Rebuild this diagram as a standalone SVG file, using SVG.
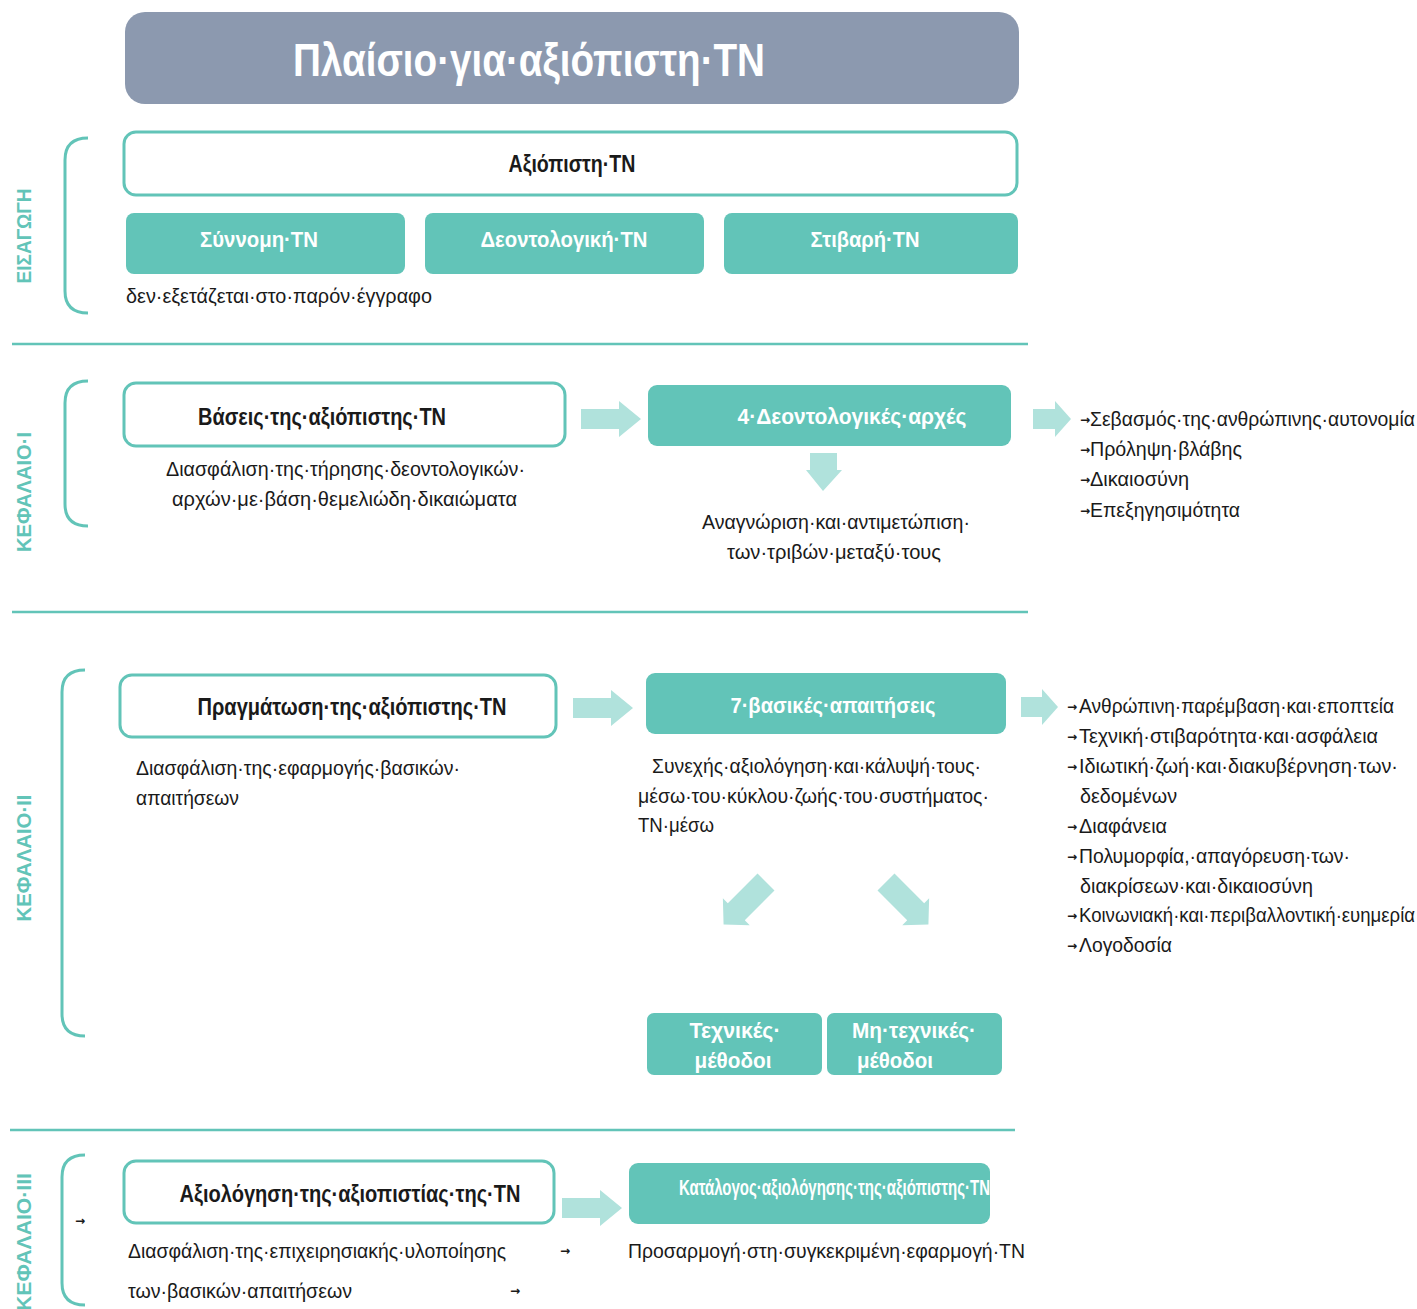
<svg xmlns="http://www.w3.org/2000/svg" width="1417" height="1309" viewBox="0 0 1417 1309">
<style>
.bg{fill:#ffffff}
.title{fill:#8c99af}
.wbox{fill:#ffffff;stroke:#62c4b8;stroke-width:3}
.tbox{fill:#62c4b8}
.brace{fill:none;stroke:#62c4b8;stroke-width:3}
.div{stroke:#62c4b8;stroke-width:2.5}
.arr{fill:#b0e2dc}
.h{font-family:"Liberation Sans Narrow","Liberation Sans",Arial,sans-serif;font-weight:bold;font-size:23px;fill:#1a1a1a}
.hw{font-family:"Liberation Sans Narrow","Liberation Sans",Arial,sans-serif;font-weight:bold;font-size:22px;fill:#ffffff}
.t{font-family:"Liberation Sans Narrow","Liberation Sans",Arial,sans-serif;font-size:21px;fill:#1a1a1a}
.l{font-family:"Liberation Sans Narrow","Liberation Sans",Arial,sans-serif;font-size:21px;fill:#1a1a1a}
.b{font-family:"DejaVu Sans",sans-serif;font-size:12px;font-weight:bold;fill:#1a1a1a}
.sec{font-family:"Liberation Sans",Arial,sans-serif;font-weight:bold;font-size:21px;fill:#62c4b8}
</style>
<rect class="bg" x="0" y="0" width="1417" height="1309"/>

<g id="title">
<rect class="title" x="125" y="12" width="894" height="92" rx="20"/>
<text x="529" y="76" text-anchor="middle" font-family="'Liberation Sans Narrow','Liberation Sans',Arial,sans-serif" font-weight="bold" font-size="47" fill="#ffffff" textLength="472" lengthAdjust="spacingAndGlyphs">Πλαίσιο·για·αξιόπιστη·ΤΝ</text>
</g>

<g id="dividers">
<line class="div" x1="12" y1="344" x2="1028" y2="344"/>
<line class="div" x1="12" y1="612" x2="1028" y2="612"/>
<line class="div" x1="10" y1="1130" x2="1015" y2="1130"/>
</g>

<g id="section-labels">
<path class="brace" d="M88,138 Q65,138 65,160 L65,291 Q65,313 88,313"/>
<text class="sec" transform="translate(31,236) rotate(-90)" text-anchor="middle" textLength="95" lengthAdjust="spacingAndGlyphs">ΕΙΣΑΓΩΓΗ</text>
<path class="brace" d="M88,381 Q65,381 65,403 L65,504 Q65,526 88,526"/>
<text class="sec" transform="translate(31,492) rotate(-90)" text-anchor="middle" textLength="120" lengthAdjust="spacingAndGlyphs">ΚΕΦΑΛΑΙΟ·Ι</text>
<path class="brace" d="M85,670 Q62,670 62,692 L62,1014 Q62,1036 85,1036"/>
<text class="sec" transform="translate(31,858) rotate(-90)" text-anchor="middle" textLength="127" lengthAdjust="spacingAndGlyphs">ΚΕΦΑΛΑΙΟ·ΙΙ</text>
<path class="brace" d="M85,1155 Q62,1155 62,1177 L62,1283 Q62,1305 85,1305"/>
<text class="sec" transform="translate(31,1242) rotate(-90)" text-anchor="middle" textLength="138" lengthAdjust="spacingAndGlyphs">ΚΕΦΑΛΑΙΟ·ΙΙΙ</text>
</g>

<g id="connectors">
<polygon class="arr" points="581,409 619,409 619,401 641,419 619,437 619,429 581,429"/>
<polygon class="arr" points="1033,409 1055,409 1055,401 1071,419 1055,437 1055,429 1033,429"/>
<polygon class="arr" points="810,453 837,453 837,470 842,470 823,491 806,470 810,470"/>
<polygon class="arr" points="573,698 611,698 611,690 633,708 611,726 611,718 573,718"/>
<polygon class="arr" points="1021,697 1042,697 1042,689 1058,707 1042,725 1042,717 1021,717"/>
<polygon class="arr" transform="translate(766,882) rotate(135)" points="0,-12 42,-12 42,-19 60,0 42,19 42,12 0,12"/>
<polygon class="arr" transform="translate(886,882) rotate(45)" points="0,-12 42,-12 42,-19 60,0 42,19 42,12 0,12"/>
<polygon class="arr" points="562,1198 600,1198 600,1190 622,1208 600,1226 600,1218 562,1218"/>
</g>

<g id="node-axiopisti">
<rect class="wbox" x="124" y="132" width="893" height="63" rx="12"/>
<text class="h" x="572" y="172" text-anchor="middle" textLength="127" lengthAdjust="spacingAndGlyphs">Αξιόπιστη·ΤΝ</text>
</g>
<g id="node-synnomi">
<rect class="tbox" x="126" y="213" width="279" height="61" rx="8"/>
<text class="hw" x="259" y="247" text-anchor="middle" textLength="118" lengthAdjust="spacingAndGlyphs">Σύννομη·ΤΝ</text>
</g>
<g id="node-deontologiki">
<rect class="tbox" x="425" y="213" width="279" height="61" rx="8"/>
<text class="hw" x="564" y="247" text-anchor="middle" textLength="167" lengthAdjust="spacingAndGlyphs">Δεοντολογική·ΤΝ</text>
</g>
<g id="node-stivari">
<rect class="tbox" x="724" y="213" width="294" height="61" rx="8"/>
<text class="hw" x="865" y="247" text-anchor="middle" textLength="109" lengthAdjust="spacingAndGlyphs">Στιβαρή·ΤΝ</text>
</g>
<g id="note-intro">
<text class="t" x="126" y="303" textLength="306" lengthAdjust="spacingAndGlyphs">δεν·εξετάζεται·στο·παρόν·έγγραφο</text>
</g>

<g id="node-vaseis">
<rect class="wbox" x="124" y="383" width="441" height="63" rx="12"/>
<text class="h" x="322" y="425" text-anchor="middle" textLength="248" lengthAdjust="spacingAndGlyphs">Βάσεις·της·αξιόπιστης·ΤΝ</text>
</g>
<g id="note-vaseis">
<text class="t" x="166" y="476" textLength="359" lengthAdjust="spacingAndGlyphs">Διασφάλιση·της·τήρησης·δεοντολογικών·</text>
<text class="t" x="172" y="506" textLength="345" lengthAdjust="spacingAndGlyphs">αρχών·με·βάση·θεμελιώδη·δικαιώματα</text>
</g>
<g id="node-4arches">
<rect class="tbox" x="648" y="385" width="363" height="61" rx="9"/>
<text class="hw" x="852" y="424" text-anchor="middle" textLength="229" lengthAdjust="spacingAndGlyphs">4·Δεοντολογικές·αρχές</text>
</g>
<g id="note-4arches">
<text class="t" x="702" y="529" textLength="268" lengthAdjust="spacingAndGlyphs">Αναγνώριση·και·αντιμετώπιση·</text>
<text class="t" x="727" y="559" textLength="214" lengthAdjust="spacingAndGlyphs">των·τριβών·μεταξύ·τους</text>
</g>
<g id="list-arches">
<text class="b" x="1080" y="424">→</text><text class="l" x="1090" y="426" textLength="325" lengthAdjust="spacingAndGlyphs">Σεβασμός·της·ανθρώπινης·αυτονομία</text>
<text class="b" x="1080" y="454">→</text><text class="l" x="1090" y="456" textLength="152" lengthAdjust="spacingAndGlyphs">Πρόληψη·βλάβης</text>
<text class="b" x="1080" y="484">→</text><text class="l" x="1090" y="486" textLength="99" lengthAdjust="spacingAndGlyphs">Δικαιοσύνη</text>
<text class="b" x="1080" y="515">→</text><text class="l" x="1090" y="517" textLength="150" lengthAdjust="spacingAndGlyphs">Επεξηγησιμότητα</text>
</g>

<g id="node-pragmatosi">
<rect class="wbox" x="120" y="675" width="436" height="62" rx="12"/>
<text class="h" x="352" y="715" text-anchor="middle" textLength="309" lengthAdjust="spacingAndGlyphs">Πραγμάτωση·της·αξιόπιστης·ΤΝ</text>
</g>
<g id="note-pragmatosi">
<text class="t" x="136" y="775" textLength="324" lengthAdjust="spacingAndGlyphs">Διασφάλιση·της·εφαρμογής·βασικών·</text>
<text class="t" x="136" y="805" textLength="103" lengthAdjust="spacingAndGlyphs">απαιτήσεων</text>
</g>
<g id="node-7apaitiseis">
<rect class="tbox" x="646" y="673" width="360" height="61" rx="9"/>
<text class="hw" x="833" y="713" text-anchor="middle" textLength="205" lengthAdjust="spacingAndGlyphs">7·βασικές·απαιτήσεις</text>
</g>
<g id="note-7apaitiseis">
<text class="t" x="652" y="773" textLength="329" lengthAdjust="spacingAndGlyphs">Συνεχής·αξιολόγηση·και·κάλυψή·τους·</text>
<text class="t" x="638" y="803" textLength="351" lengthAdjust="spacingAndGlyphs">μέσω·του·κύκλου·ζωής·του·συστήματος·</text>
<text class="t" x="638" y="832" textLength="76" lengthAdjust="spacingAndGlyphs">ΤΝ·μέσω</text>
</g>
<g id="list-apaitiseis">
<text class="b" x="1067" y="711">→</text><text class="l" x="1079" y="713" textLength="315" lengthAdjust="spacingAndGlyphs">Ανθρώπινη·παρέμβαση·και·εποπτεία</text>
<text class="b" x="1067" y="741">→</text><text class="l" x="1079" y="743" textLength="299" lengthAdjust="spacingAndGlyphs">Τεχνική·στιβαρότητα·και·ασφάλεια</text>
<text class="b" x="1067" y="771">→</text><text class="l" x="1079" y="773" textLength="319" lengthAdjust="spacingAndGlyphs">Ιδιωτική·ζωή·και·διακυβέρνηση·των·</text>
<text class="l" x="1080" y="803" textLength="97" lengthAdjust="spacingAndGlyphs">δεδομένων</text>
<text class="b" x="1067" y="831">→</text><text class="l" x="1079" y="833" textLength="88" lengthAdjust="spacingAndGlyphs">Διαφάνεια</text>
<text class="b" x="1067" y="861">→</text><text class="l" x="1079" y="863" textLength="271" lengthAdjust="spacingAndGlyphs">Πολυμορφία,·απαγόρευση·των·</text>
<text class="l" x="1080" y="893" textLength="233" lengthAdjust="spacingAndGlyphs">διακρίσεων·και·δικαιοσύνη</text>
<text class="b" x="1067" y="920">→</text><text class="l" x="1079" y="922" textLength="336" lengthAdjust="spacingAndGlyphs">Κοινωνιακή·και·περιβαλλοντική·ευημερία</text>
<text class="b" x="1067" y="950">→</text><text class="l" x="1079" y="952" textLength="93" lengthAdjust="spacingAndGlyphs">Λογοδοσία</text>
</g>
<g id="node-technikes">
<rect class="tbox" x="647" y="1013" width="175" height="62" rx="7"/>
<text class="hw" x="735" y="1038" text-anchor="middle" textLength="91" lengthAdjust="spacingAndGlyphs">Τεχνικές·</text>
<text class="hw" x="733" y="1068" text-anchor="middle" textLength="77" lengthAdjust="spacingAndGlyphs">μέθοδοι</text>
</g>
<g id="node-mi-technikes">
<rect class="tbox" x="827" y="1013" width="175" height="62" rx="7"/>
<text class="hw" x="914" y="1038" text-anchor="middle" textLength="124" lengthAdjust="spacingAndGlyphs">Μη·τεχνικές·</text>
<text class="hw" x="895" y="1068" text-anchor="middle" textLength="76" lengthAdjust="spacingAndGlyphs">μέθοδοι</text>
</g>

<g id="node-axiologisi">
<rect class="wbox" x="124" y="1161" width="430" height="62" rx="12"/>
<text class="h" x="350" y="1202" text-anchor="middle" textLength="341" lengthAdjust="spacingAndGlyphs">Αξιολόγηση·της·αξιοπιστίας·της·ΤΝ</text>
</g>
<g id="note-axiologisi">
<text class="b" x="75" y="1225">→</text>
<text class="t" x="128" y="1258" textLength="378" lengthAdjust="spacingAndGlyphs">Διασφάλιση·της·επιχειρησιακής·υλοποίησης</text>
<text class="b" x="560" y="1255">→</text>
<text class="t" x="128" y="1298" textLength="224" lengthAdjust="spacingAndGlyphs">των·βασικών·απαιτήσεων</text>
<text class="b" x="510" y="1295">→</text>
</g>
<g id="node-katalogos">
<rect class="tbox" x="629" y="1163" width="361" height="61" rx="9"/>
<text class="hw" x="679" y="1195" font-size="16" textLength="311" lengthAdjust="spacingAndGlyphs">Κατάλογος·αξιολόγησης·της·αξιόπιστης·ΤΝ</text>
</g>
<g id="note-katalogos">
<text class="t" x="628" y="1258" textLength="397" lengthAdjust="spacingAndGlyphs">Προσαρμογή·στη·συγκεκριμένη·εφαρμογή·ΤΝ</text>
</g>
</svg>
